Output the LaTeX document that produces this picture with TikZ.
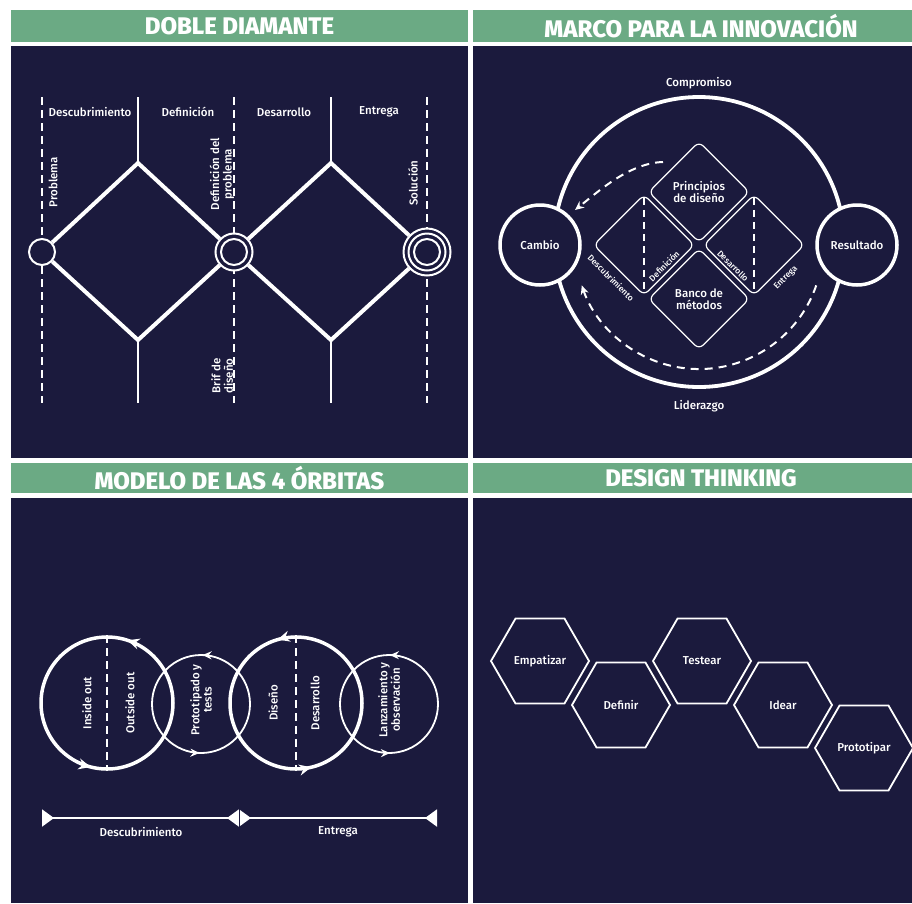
\documentclass[tikz,border=0pt]{standalone}
\usepackage{fontspec}
\setmainfont{Fira Sans}
\newfontfamily\medfont{Fira Sans Medium}
\newfontfamily\heavyfont{Fira Sans ExtraBold}
\usepackage{tikz}
\usetikzlibrary{arrows.meta,shapes.geometric,decorations.markings,calc}
\definecolor{navy}{HTML}{1B1A3D}
\definecolor{sage}{HTML}{6BAA84}

\begin{document}
\begin{tikzpicture}[x=1pt,y=-1pt,
  title/.style={text=white,font=\heavyfont\fontsize{24}{24}\selectfont},
  lbl/.style={text=white,font=\medfont\fontsize{11.5}{12.5}\selectfont,inner sep=0pt},
  tag/.style={text=white,font=\medfont\fontsize{8.5}{9}\selectfont,inner sep=0pt},
  dashline/.style={white,line width=2.4pt,dash pattern=on 8pt off 5pt},
  ring/.style={circle,draw=white,fill=navy,line width=2pt,inner sep=0pt},
  hub/.style={circle,draw=white,fill=navy,line width=3.5pt,minimum size=80pt,inner sep=0pt},
  petal/.style={diamond,draw=white,line width=1.2pt,rounded corners=6pt,minimum width=101pt,minimum height=101pt,inner sep=0pt},
  flow/.style={white,line width=2pt,dash pattern=on 8pt off 6pt,-{Stealth[length=9pt,width=8pt]}},
  orbit/.style={circle,draw=white,inner sep=0pt},
  hexa/.style={regular polygon,regular polygon sides=6,draw=white,line width=1.8pt,minimum size=98pt,inner sep=0pt},
  stop/.style={white,line width=2pt,{Triangle[reversed,length=12pt,width=17pt]}-{Triangle[reversed,length=12pt,width=17pt]}}]
  \fill[white] (0,0) rectangle (912,903);
  \useasboundingbox (0,0) rectangle (912,903);
  \fill[sage] (11,10) rectangle (468,42);
  \fill[navy] (11,46) rectangle (468,458);
  \fill[sage] (473,10) rectangle (912,42);
  \fill[navy] (473,46) rectangle (912,458);
  \fill[sage] (11,463) rectangle (468,493);
  \fill[navy] (11,498) rectangle (468,903);
  \fill[sage] (473,463) rectangle (912,493);
  \fill[navy] (473,498) rectangle (912,903);
  \node[title] (dd) at (239.5,26) {DOBLE DIAMANTE};
  \node[title] (mi) at (701,26) {MARCO PARA LA INNOVACIÓN};
  \node[title] (mo) at (239.5,478) {MODELO DE LAS 4 ÓRBITAS};
  \node[title] (dt) at (701,478) {DESIGN THINKING};

  % doble diamante
  \foreach \x in {42,234,427}
    \draw[dashline] (\x,97) -- (\x,403);
  \foreach \x in {138,331} {
    \draw[white,line width=2.4pt] (\x,97) -- (\x,163);
    \draw[white,line width=2.4pt] (\x,340) -- (\x,403);
  }
  \node[ring,minimum size=26pt] (prob) at (42,252) {};
  \node[ring,minimum size=37pt] (defp) at (234,252) {};
  \node[ring,minimum size=26pt] at (defp) {};
  \node[ring,minimum size=47pt] (sol) at (427,252) {};
  \node[ring,minimum size=37pt] at (sol) {};
  \node[ring,minimum size=26pt] at (sol) {};
  \coordinate (top1) at (138,163);
  \coordinate (bot1) at (138,340);
  \coordinate (top2) at (331,163);
  \coordinate (bot2) at (331,340);
  \draw[white,line width=4pt] (prob) -- (top1) -- (defp) -- (bot1) -- (prob);
  \draw[white,line width=4pt] (defp) -- (top2) -- (sol) -- (bot2) -- (defp);
  \node[lbl] at (90,112) {Descubrimiento};
  \node[lbl] at (188,112) {Definición};
  \node[lbl] at (284,112) {Desarrollo};
  \node[lbl] at (379,112) {Entrega};
  \node[lbl,rotate=90] at (53,182) {Problema};
  \node[lbl,rotate=90,align=center] at (222,174) {Definición del\\problema};
  \node[lbl,rotate=90,align=center] at (222,376) {Brif de\\diseño};
  \node[lbl,rotate=90] at (413,183) {Solución};

  % marco para la innovacion
  \coordinate (mc) at (699,245);
  \draw[white,line width=3.8pt] (699,242) circle[radius=145];
  \node[hub] (cambio) at (540,245) {};
  \node[hub] (resul) at (857,245) {};
  \node[lbl] at (cambio) {Cambio};
  \node[lbl] at (resul) {Resultado};
  \node[petal] (princ) at (699,192) {};
  \node[petal] (banco) at (699,299) {};
  \node[petal] (izq) at (644,245) {};
  \node[petal] (der) at (754,245) {};
  \node[lbl,align=center] at (princ) {Principios\\de diseño};
  \node[lbl,align=center] at (banco) {Banco de\\métodos};
  \draw[dashline,line width=2pt,dash pattern=on 7pt off 5pt,shorten <=4pt,shorten >=4pt] (izq.north) -- (izq.south);
  \draw[dashline,line width=2pt,dash pattern=on 7pt off 5pt,shorten <=4pt,shorten >=4pt] (der.north) -- (der.south);
  \node[tag,rotate=-45] at (611,278) {Descubrimiento};
  \node[tag,rotate=45] at (664,266) {Definición};
  \node[tag,rotate=-45] at (733,266) {Desarrollo};
  \node[tag,rotate=45] at (786,278) {Entrega};
  \node[lbl] at (699,83) {Compromiso};
  \node[lbl] at (699,406) {Liderazgo};
  \draw[flow] (663,162) .. controls (630,163) and (600,190) .. (575,210);
  \draw[flow] ($(mc)+(19:124)$) arc[start angle=19,end angle=161,radius=124];

  % modelo de las 4 orbitas
  \node[orbit,line width=3.5pt,minimum size=132pt,postaction={decorate},
    decoration={markings,mark=at position 0.2 with {\arrow{Stealth[length=12pt,width=11pt]}},
      mark=at position 0.71 with {\arrow{Stealth[length=12pt,width=11pt]}}}] (o1) at (107,703) {};
  \node[orbit,line width=1.8pt,minimum size=98pt,postaction={decorate},
    decoration={markings,mark=at position 0.245 with {\arrow{Stealth[length=9pt,width=8pt]}},
      mark=at position 0.745 with {\arrow{Stealth[length=9pt,width=8pt]}}}] (o2) at (201,704) {};
  \node[orbit,line width=3.5pt,minimum size=132pt,postaction={decorate},
    decoration={markings,mark=at position 0.295 with {\arrow{Stealth[length=12pt,width=11pt]}},
      mark=at position 0.787 with {\arrow{Stealth[length=12pt,width=11pt]}}}] (o3) at (296,703) {};
  \node[orbit,line width=1.8pt,minimum size=98pt,postaction={decorate},
    decoration={markings,mark=at position 0.247 with {\arrow{Stealth[length=9pt,width=8pt]}},
      mark=at position 0.753 with {\arrow{Stealth[length=9pt,width=8pt]}}}] (o4) at (389,704) {};
  \draw[dashline,line width=2pt,dash pattern=on 8pt off 5pt] (o1.north) -- (o1.south);
  \draw[dashline,line width=2pt,dash pattern=on 8pt off 5pt] (o3.north) -- (o3.south);
  \node[lbl,rotate=90] at (87,703) {Inside out};
  \node[lbl,rotate=90] at (130,703) {Outside out};
  \node[lbl,rotate=90,align=center] at (201,700) {Prototipado y\\tests};
  \node[lbl,rotate=90] at (273,703) {Diseño};
  \node[lbl,rotate=90] at (315,703) {Desarrollo};
  \node[lbl,rotate=90,align=center] at (389,700) {Lanzamiento y\\observación};
  \coordinate (ta) at (42,818);
  \coordinate (tm) at (239,818);
  \coordinate (tb) at (437,818);
  \draw[stop] (ta) -- (tm);
  \draw[stop] (tm) -- (tb);
  \draw[navy,line width=0.8pt] (239,808) -- (239,828);
  \node[lbl] at (141,832) {Descubrimiento};
  \node[lbl] at (338,832) {Entrega};

  % design thinking
  \node[hexa] (emp) at (540,661) {};
  \node[hexa] (def) at (621,705) {};
  \node[hexa] (tes) at (702,661) {};
  \node[hexa] (ide) at (783,705) {};
  \node[hexa] (pro) at (864,748) {};
  \node[lbl] at (emp) {Empatizar};
  \node[lbl] at (def) {Definir};
  \node[lbl] at (tes) {Testear};
  \node[lbl] at (ide) {Idear};
  \node[lbl] at (pro) {Prototipar};
\end{tikzpicture}
\end{document}
